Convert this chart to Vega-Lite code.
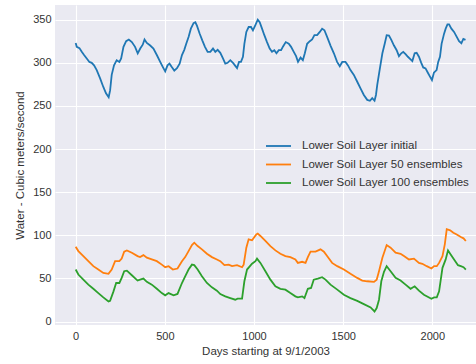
{
  "$schema": "https://vega.github.io/schema/vega-lite/v6.json",
  "width": 421,
  "height": 320,
  "autosize": {"type": "none"},
  "padding": {"left": 55, "top": 5, "right": 0, "bottom": 39},
  "background": "white",
  "config": {
    "view": {"fill": "#EAEAF2", "stroke": null},
    "font": "Liberation Sans",
    "axis": {
      "grid": true, "gridColor": "white", "gridWidth": 1.1,
      "domain": false, "ticks": false,
      "labelColor": "#333333", "labelFontSize": 11, "labelFont": "Liberation Sans",
      "titleColor": "#333333", "titleFontSize": 11.5, "titleFont": "Liberation Sans", "titleFontWeight": "normal"
    },
    "legend": {
      "labelColor": "#333333", "labelFontSize": 11.5, "labelFont": "Liberation Sans", "labelLimit": 0
    }
  },
  "datasets": {
    "initial": [
      {"d":0,"v":323},{"d":6,"v":318.5},{"d":21,"v":317},{"d":34,"v":312.7},{"d":47,"v":309},{"d":62,"v":305},{"d":77,"v":301},{"d":90,"v":300},{"d":103,"v":297},{"d":118,"v":291.5},{"d":137,"v":282},{"d":155,"v":272},{"d":170,"v":264.6},{"d":185,"v":260},{"d":193,"v":268},{"d":202,"v":286},{"d":215,"v":297},{"d":230,"v":303},{"d":245,"v":301},{"d":255,"v":305},{"d":268,"v":318.5},{"d":283,"v":325},{"d":298,"v":327},{"d":315,"v":324},{"d":333,"v":318.5},{"d":348,"v":311},{"d":362,"v":316.5},{"d":376,"v":321},{"d":386,"v":327},{"d":399,"v":323},{"d":418,"v":320},{"d":436,"v":316.5},{"d":455,"v":309},{"d":474,"v":301},{"d":489,"v":295},{"d":502,"v":290},{"d":515,"v":297},{"d":526,"v":299},{"d":539,"v":295},{"d":553,"v":291},{"d":568,"v":293.8},{"d":583,"v":299},{"d":596,"v":309},{"d":609,"v":315},{"d":620,"v":322},{"d":633,"v":330},{"d":646,"v":339.6},{"d":661,"v":346},{"d":671,"v":347},{"d":680,"v":343},{"d":695,"v":334},{"d":710,"v":326},{"d":725,"v":318.5},{"d":740,"v":312.7},{"d":755,"v":312.7},{"d":770,"v":316.5},{"d":783,"v":312.7},{"d":796,"v":315},{"d":811,"v":311.5},{"d":826,"v":305},{"d":839,"v":299},{"d":852,"v":300},{"d":867,"v":303},{"d":882,"v":300},{"d":893,"v":297},{"d":905,"v":293.8},{"d":916,"v":301},{"d":927,"v":301},{"d":938,"v":307},{"d":946,"v":322},{"d":957,"v":335.8},{"d":970,"v":341.5},{"d":983,"v":341.5},{"d":994,"v":337.7},{"d":1007,"v":343.5},{"d":1021,"v":350},{"d":1032,"v":347},{"d":1045,"v":339.6},{"d":1058,"v":332},{"d":1073,"v":324},{"d":1088,"v":316.5},{"d":1101,"v":312.7},{"d":1114,"v":314.6},{"d":1126,"v":311},{"d":1139,"v":314.6},{"d":1152,"v":314.6},{"d":1163,"v":319},{"d":1178,"v":324},{"d":1195,"v":322},{"d":1208,"v":318.5},{"d":1223,"v":312.7},{"d":1236,"v":307.7},{"d":1247,"v":301},{"d":1261,"v":306},{"d":1274,"v":303},{"d":1285,"v":311},{"d":1298,"v":322},{"d":1313,"v":325},{"d":1326,"v":327},{"d":1339,"v":332},{"d":1354,"v":332},{"d":1369,"v":335.8},{"d":1382,"v":339.6},{"d":1395,"v":337.7},{"d":1410,"v":330},{"d":1429,"v":320},{"d":1448,"v":311},{"d":1466,"v":301},{"d":1481,"v":296},{"d":1495,"v":301},{"d":1513,"v":301},{"d":1527,"v":297},{"d":1541,"v":291.5},{"d":1560,"v":286},{"d":1579,"v":278},{"d":1598,"v":270},{"d":1616,"v":262.7},{"d":1635,"v":257},{"d":1650,"v":256},{"d":1663,"v":259},{"d":1676,"v":256},{"d":1684,"v":262.7},{"d":1691,"v":274},{"d":1706,"v":293.5},{"d":1720,"v":311},{"d":1733,"v":322},{"d":1744,"v":332},{"d":1757,"v":331.5},{"d":1770,"v":326.5},{"d":1785,"v":320},{"d":1800,"v":314.6},{"d":1813,"v":307.7},{"d":1826,"v":311},{"d":1837,"v":312.7},{"d":1850,"v":310},{"d":1863,"v":307},{"d":1878,"v":304},{"d":1888,"v":302},{"d":1901,"v":311},{"d":1912,"v":311.5},{"d":1925,"v":307},{"d":1938,"v":300},{"d":1949,"v":294.6},{"d":1962,"v":293.5},{"d":1975,"v":288.5},{"d":1987,"v":284},{"d":1998,"v":280},{"d":2009,"v":288.5},{"d":2024,"v":291.5},{"d":2033,"v":301},{"d":2043,"v":307},{"d":2052,"v":322},{"d":2066,"v":333.8},{"d":2075,"v":339.6},{"d":2085,"v":344.6},{"d":2094,"v":344.6},{"d":2107,"v":339.6},{"d":2122,"v":335.8},{"d":2137,"v":330},{"d":2150,"v":325},{"d":2163,"v":322.7},{"d":2174,"v":327.7},{"d":2186,"v":326.5}
    ],
    "ens50": [
      {"d":0,"v":86.8},{"d":15,"v":81.7},{"d":43,"v":75.9},{"d":71,"v":70},{"d":99,"v":64.2},{"d":127,"v":60.3},{"d":155,"v":56.4},{"d":184,"v":55.3},{"d":202,"v":60.3},{"d":221,"v":70},{"d":245,"v":70},{"d":258,"v":73},{"d":272,"v":81},{"d":287,"v":82.5},{"d":315,"v":79.8},{"d":347,"v":75.9},{"d":361,"v":74.7},{"d":380,"v":77},{"d":399,"v":74},{"d":427,"v":72},{"d":455,"v":70},{"d":483,"v":66},{"d":502,"v":63},{"d":521,"v":64.2},{"d":545,"v":60.3},{"d":571,"v":61.5},{"d":596,"v":70},{"d":614,"v":74.7},{"d":633,"v":81.7},{"d":652,"v":88.7},{"d":665,"v":91.4},{"d":684,"v":87.5},{"d":708,"v":83.7},{"d":736,"v":78.6},{"d":764,"v":74.7},{"d":792,"v":72},{"d":811,"v":70},{"d":834,"v":65.4},{"d":858,"v":66},{"d":877,"v":64.2},{"d":905,"v":65.4},{"d":933,"v":63},{"d":942,"v":66},{"d":957,"v":85.6},{"d":970,"v":95.3},{"d":989,"v":94.2},{"d":1013,"v":101},{"d":1021,"v":102},{"d":1036,"v":99.2},{"d":1064,"v":93.4},{"d":1092,"v":87.5},{"d":1120,"v":82.5},{"d":1148,"v":78.6},{"d":1176,"v":75.9},{"d":1204,"v":74.7},{"d":1232,"v":72},{"d":1246,"v":68},{"d":1270,"v":69.3},{"d":1289,"v":68},{"d":1302,"v":74.7},{"d":1317,"v":81},{"d":1345,"v":81},{"d":1373,"v":83.7},{"d":1392,"v":81},{"d":1410,"v":75.9},{"d":1438,"v":68},{"d":1467,"v":64.2},{"d":1504,"v":60.3},{"d":1541,"v":55.3},{"d":1579,"v":50.6},{"d":1607,"v":47.5},{"d":1635,"v":46.7},{"d":1673,"v":46},{"d":1688,"v":48.6},{"d":1701,"v":58.4},{"d":1720,"v":74},{"d":1744,"v":88.7},{"d":1766,"v":85.6},{"d":1794,"v":79.8},{"d":1822,"v":78.6},{"d":1841,"v":75.9},{"d":1869,"v":72},{"d":1897,"v":73},{"d":1925,"v":68},{"d":1944,"v":67},{"d":1969,"v":64.2},{"d":1995,"v":61.5},{"d":2010,"v":64.2},{"d":2025,"v":64.2},{"d":2038,"v":68},{"d":2057,"v":75.9},{"d":2070,"v":89.5},{"d":2081,"v":107},{"d":2100,"v":105.8},{"d":2118,"v":103},{"d":2137,"v":101},{"d":2160,"v":98},{"d":2175,"v":96.5},{"d":2188,"v":93.4}
    ],
    "ens100": [
      {"d":0,"v":60.3},{"d":15,"v":54.5},{"d":43,"v":48.6},{"d":71,"v":42.8},{"d":99,"v":38},{"d":127,"v":33},{"d":155,"v":28},{"d":184,"v":23.3},{"d":193,"v":24},{"d":212,"v":35},{"d":227,"v":44.7},{"d":245,"v":44.7},{"d":258,"v":50.6},{"d":272,"v":58.4},{"d":287,"v":59},{"d":315,"v":53.7},{"d":347,"v":47.5},{"d":361,"v":48.6},{"d":380,"v":49.8},{"d":399,"v":46},{"d":427,"v":42.8},{"d":455,"v":38},{"d":483,"v":33},{"d":502,"v":30.4},{"d":521,"v":33},{"d":549,"v":30.4},{"d":571,"v":32},{"d":596,"v":44.7},{"d":614,"v":52.5},{"d":633,"v":60.3},{"d":652,"v":66},{"d":665,"v":65.4},{"d":684,"v":60.3},{"d":708,"v":52.5},{"d":736,"v":44.7},{"d":764,"v":39.7},{"d":792,"v":35.8},{"d":811,"v":31.9},{"d":839,"v":29.2},{"d":867,"v":27.2},{"d":895,"v":25.3},{"d":908,"v":26.5},{"d":933,"v":26.5},{"d":946,"v":46.7},{"d":961,"v":60.3},{"d":989,"v":67},{"d":1008,"v":70},{"d":1017,"v":73},{"d":1036,"v":68},{"d":1064,"v":58.4},{"d":1092,"v":48.6},{"d":1120,"v":40.9},{"d":1148,"v":38},{"d":1176,"v":37},{"d":1204,"v":33},{"d":1232,"v":29.2},{"d":1246,"v":28},{"d":1270,"v":29.2},{"d":1283,"v":27.2},{"d":1302,"v":38},{"d":1320,"v":38.9},{"d":1335,"v":48.6},{"d":1358,"v":49.8},{"d":1382,"v":51.4},{"d":1401,"v":48.6},{"d":1429,"v":42.8},{"d":1467,"v":37},{"d":1504,"v":31},{"d":1541,"v":27.2},{"d":1579,"v":24},{"d":1616,"v":20.2},{"d":1654,"v":16.3},{"d":1676,"v":11.7},{"d":1688,"v":15.6},{"d":1701,"v":25.3},{"d":1714,"v":46.7},{"d":1729,"v":57.6},{"d":1744,"v":64.2},{"d":1766,"v":58.4},{"d":1794,"v":50.6},{"d":1822,"v":47.5},{"d":1850,"v":42.8},{"d":1878,"v":38},{"d":1901,"v":40.9},{"d":1925,"v":35.8},{"d":1953,"v":31},{"d":1995,"v":26.5},{"d":2010,"v":28},{"d":2025,"v":28},{"d":2038,"v":35},{"d":2057,"v":62.3},{"d":2075,"v":72},{"d":2088,"v":82.5},{"d":2103,"v":77.8},{"d":2122,"v":72},{"d":2144,"v":65.4},{"d":2160,"v":64.2},{"d":2175,"v":63},{"d":2188,"v":60.3}
    ]
  },
  "encoding": {
    "x": {
      "field": "d", "type": "quantitative",
      "scale": {"domain": [-116, 2245], "nice": false, "zero": false},
      "axis": {"values": [0, 500, 1000, 1500, 2000], "format": "d", "title": "Days starting at 9/1/2003", "labelPadding": 5, "titlePadding": 4}
    },
    "y": {
      "field": "v", "type": "quantitative",
      "scale": {"domain": [-4, 367], "nice": false, "zero": false},
      "axis": {"values": [0, 50, 100, 150, 200, 250, 300, 350], "format": "d", "title": "Water - Cubic meters/second", "labelPadding": 4, "titlePadding": 7}
    }
  },
  "layer": [
    {
      "data": {"name": "initial"},
      "mark": {"type": "line", "strokeWidth": 1.8, "clip": true},
      "encoding": {
        "color": {
          "datum": "Lower Soil Layer initial",
          "scale": {
            "domain": ["Lower Soil Layer initial", "Lower Soil Layer 50 ensembles", "Lower Soil Layer 100 ensembles"],
            "range": ["#1f77b4", "#ff7f0e", "#2ca02c"]
          },
          "legend": {
            "title": null, "orient": "none", "legendX": 210, "legendY": 135,
            "symbolType": "M-1,0H4", "symbolSize": 100, "symbolStrokeWidth": 1.8,
            "labelOffset": 25, "rowPadding": 6.5, "padding": 0, "labelLimit": 0
          }
        }
      }
    },
    {
      "data": {"name": "ens50"},
      "mark": {"type": "line", "strokeWidth": 1.8, "clip": true},
      "encoding": {"color": {"datum": "Lower Soil Layer 50 ensembles"}}
    },
    {
      "data": {"name": "ens100"},
      "mark": {"type": "line", "strokeWidth": 1.8, "clip": true},
      "encoding": {"color": {"datum": "Lower Soil Layer 100 ensembles"}}
    }
  ]
}
